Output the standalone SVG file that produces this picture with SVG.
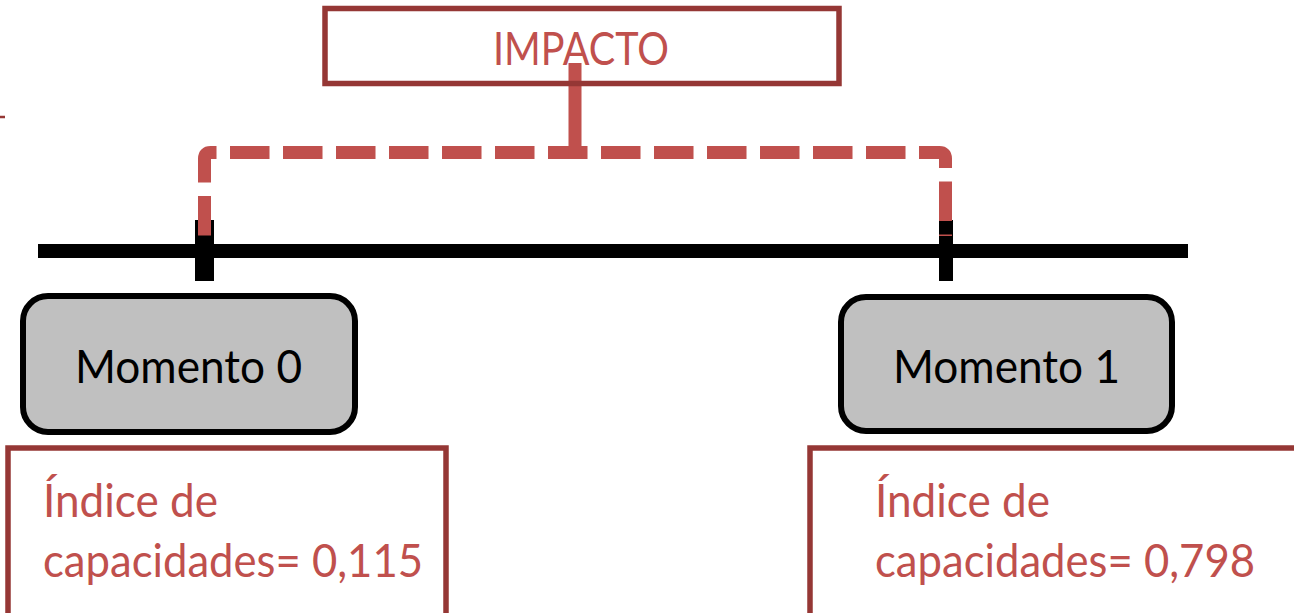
<svg xmlns="http://www.w3.org/2000/svg" width="1294" height="613" viewBox="0 0 1294 613">
<style>
.red{font-family:Lato,"Liberation Sans",sans-serif;fill:#c0504d;font-size:46px}
.blk{font-family:Lato,"Liberation Sans",sans-serif;fill:#000;font-size:46px}
.rbox{fill:#fff;stroke:#953735;stroke-width:5.5}
.gbox{fill:#c0c0c0;stroke:#000;stroke-width:6}
</style>
<rect width="1294" height="613" fill="#fff"/>
<line x1="0" y1="117" x2="5" y2="117" stroke="#953735" stroke-width="2.5"/>
<g id="timeline">
<line x1="38" y1="251" x2="1188" y2="251" stroke="#000" stroke-width="14"/>
<rect x="195" y="220" width="19" height="61" fill="#000"/>
<rect x="939" y="220" width="14" height="61" fill="#000"/>
</g>
<g id="connectors">
<path d="M204.5 235.5 V158.5 Q204.5 152.5 210.5 152.5 H939.5 Q945.5 152.5 945.5 158.5 V236" fill="none" stroke="#c0504d" stroke-width="13" stroke-dasharray="39.5 13.5"/>
<line x1="575" y1="63" x2="575" y2="158" stroke="#c0504d" stroke-width="13"/>
</g>
<g id="impacto">
<rect class="rbox" x="325" y="8.5" width="514" height="75" fill="none" style="fill:none"/>
<text class="red" x="581" y="65" text-anchor="middle" textLength="176" lengthAdjust="spacingAndGlyphs">IMPACTO</text>
</g>
<g id="momento0">
<rect class="gbox" x="23" y="296" width="332" height="136" rx="25"/>
<text class="blk" x="75" y="383" textLength="227" lengthAdjust="spacingAndGlyphs">Momento 0</text>
</g>
<g id="momento1">
<rect class="gbox" x="841" y="297" width="331" height="134" rx="25"/>
<text class="blk" x="893" y="383" textLength="227" lengthAdjust="spacingAndGlyphs">Momento 1</text>
</g>
<g id="indice0">
<rect class="rbox" x="8" y="448" width="438" height="180"/>
<text class="red" x="43" y="517" textLength="175" lengthAdjust="spacingAndGlyphs">Índice de</text>
<text class="red" x="43" y="577" textLength="380" lengthAdjust="spacingAndGlyphs">capacidades= 0,115</text>
</g>
<g id="indice1">
<rect class="rbox" x="810" y="448" width="500" height="180"/>
<text class="red" x="875" y="517" textLength="175" lengthAdjust="spacingAndGlyphs">Índice de</text>
<text class="red" x="875" y="577" textLength="380" lengthAdjust="spacingAndGlyphs">capacidades= 0,798</text>
</g>
</svg>
